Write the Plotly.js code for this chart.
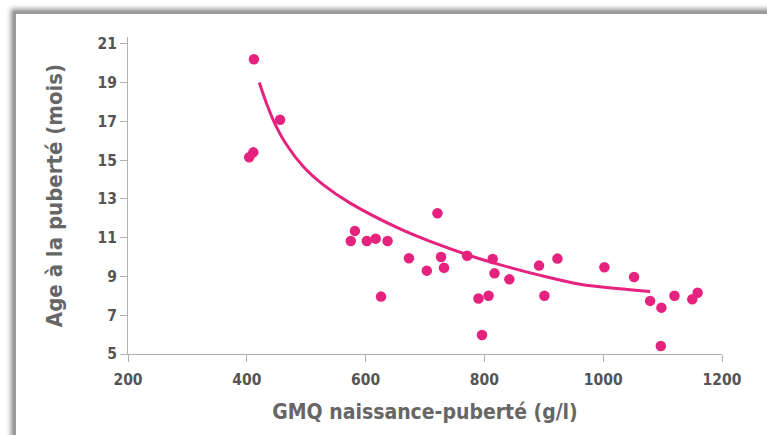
<!DOCTYPE html>
<html>
<head>
<meta charset="utf-8">
<script src="https://cdn.plot.ly/plotly-3.0.1.min.js"></script>
<style>
  html, body { margin:0; padding:0; background:#fff; overflow:hidden; }
  #wrap { position:relative; width:767px; height:435px; overflow:hidden; background:#fff; }
  #frame { position:absolute; left:13px; top:11px; width:820px; height:500px;
           border-left:3px solid #9a9a9a; border-top:3px solid #9a9a9a;
           box-shadow:-2px -2px 5px rgba(0,0,0,0.45); background:#fff; }
  #chart { position:absolute; left:0; top:0; width:767px; height:435px; }
</style>
</head>
<body>
<div id="wrap">
  <div id="frame"></div>
  <div id="chart"></div>
</div>
<script>
// Observed points: GMQ naissance-puberté (g/l) vs age à la puberté (mois)
const gmq = [412, 456, 404, 411, 575, 582, 602, 617, 637, 626, 673, 703, 721, 727, 732,
             771, 790, 796, 807, 814, 817, 842, 892, 901, 923, 1002, 1052, 1079, 1098, 1097,
             1120, 1150, 1159];
const agePuberte = [20.2, 17.08, 15.15, 15.4, 10.83, 11.35, 10.83, 10.95, 10.83, 7.96, 9.94, 9.3, 12.26, 10.0, 9.45,
                    10.07, 7.86, 5.98, 8.0, 9.9, 9.16, 8.85, 9.56, 8.0, 9.92, 9.47, 8.97, 7.74, 7.39, 5.41,
                    8.0, 7.82, 8.16];

// Trend curve
const trendX = [421, 433, 447, 467, 495, 529, 574, 658, 711, 771, 820, 891, 961, 1028, 1079];
const trendY = [19.0, 17.94, 16.9, 15.79, 14.67, 13.72, 12.78, 11.45, 10.78, 10.12, 9.66, 9.08, 8.6, 8.36, 8.22];

const xTicks = [200, 400, 600, 800, 1000, 1200];
const yTicks = [5, 7, 9, 11, 13, 15, 17, 19, 21];

const pink = '#e6227f';
const font = 'DejaVu Sans Condensed, Liberation Sans Narrow, sans-serif';

const traces = [
  { x: trendX, y: trendY, mode: 'lines', type: 'scatter',
    line: { color: pink, width: 3, shape: 'spline', smoothing: 1 }, hoverinfo: 'skip' },
  { x: gmq, y: agePuberte, mode: 'markers', type: 'scatter',
    marker: { color: pink, size: 10.5 } }
];

const axisCommon = {
  showgrid: false, zeroline: false, showline: true, linecolor: '#b0b0b0', linewidth: 1,
  ticks: 'outside', ticklen: 7, tickcolor: '#b0b0b0', tickwidth: 1,
  tickfont: { family: font, size: 15.5, color: '#555555', weight: 'bold' }
};

const layout = {
  width: 767, height: 435,
  margin: { l: 128, r: 45, t: 37, b: 81 },
  paper_bgcolor: 'rgba(0,0,0,0)', plot_bgcolor: 'rgba(0,0,0,0)',
  showlegend: false,
  xaxis: Object.assign({}, axisCommon, {
    range: [200, 1200], tickvals: xTicks, ticktext: xTicks.map(String),
    ticklabelstandoff: 4,
    title: { text: 'GMQ naissance-puberté (g/l)', standoff: 16,
             font: { family: font, size: 21, color: '#666666', weight: 'bold' } }
  }),
  yaxis: Object.assign({}, axisCommon, {
    range: [5, 21.35], tickvals: yTicks, ticktext: yTicks.map(String),
    title: { text: 'Age à la puberté (mois)', standoff: 28,
             font: { family: font, size: 22, color: '#666666', weight: 'bold' } }
  })
};

Plotly.newPlot('chart', traces, layout, { displayModeBar: false, staticPlot: true });
</script>
</body>
</html>
